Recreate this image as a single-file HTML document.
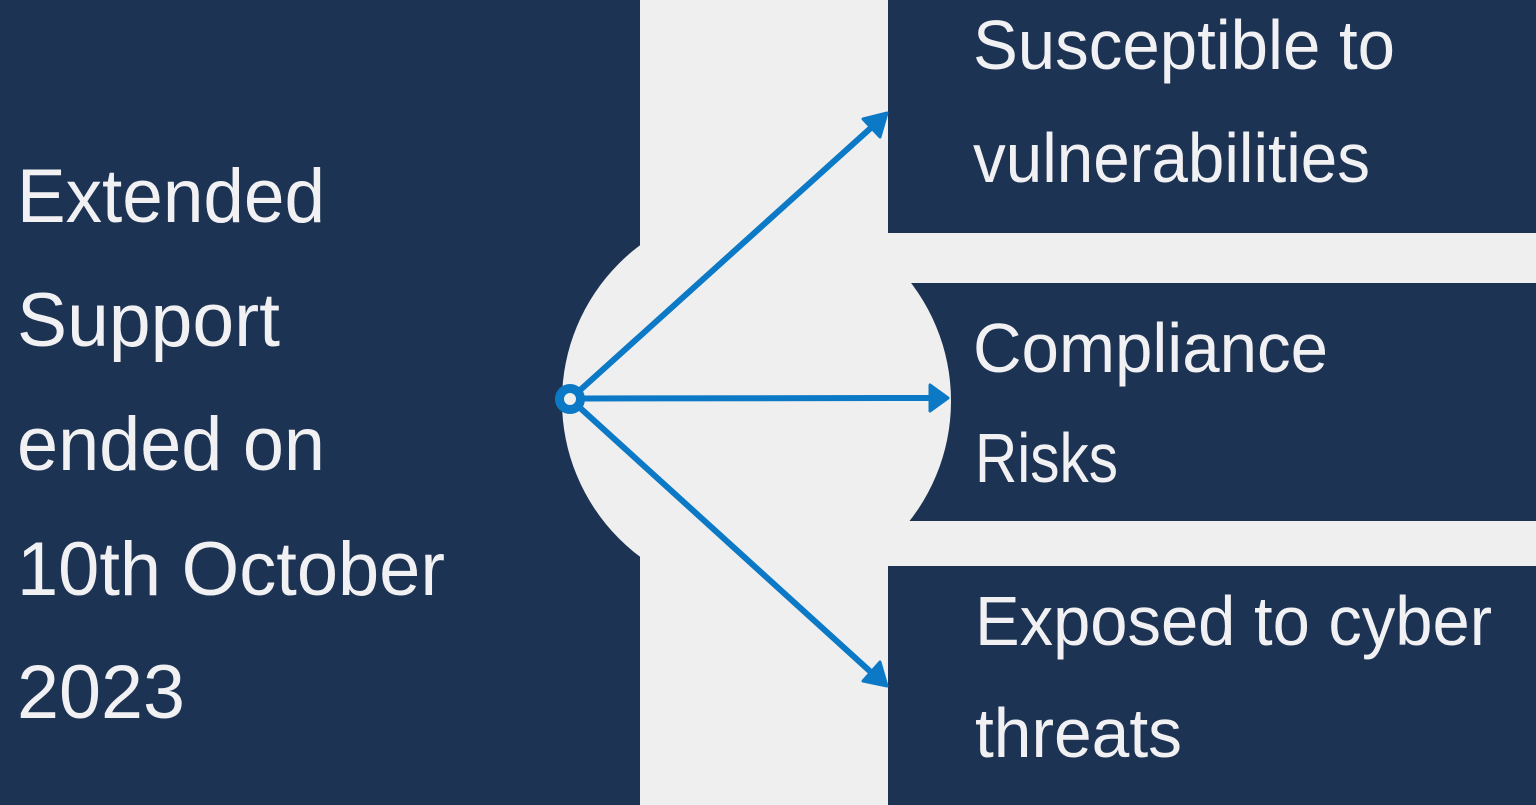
<!DOCTYPE html>
<html>
<head>
<meta charset="utf-8">
<style>
  html,body{margin:0;padding:0;background:#efefef;}
  body{width:1536px;height:805px;overflow:hidden;}
  svg{display:block;}
  text{font-family:"Liberation Sans", sans-serif;fill:#f1f1f3;}
</style>
</head>
<body>
<svg width="1536" height="805" viewBox="0 0 1536 805" xmlns="http://www.w3.org/2000/svg">
  <rect x="0" y="0" width="1536" height="805" fill="#efefef"/>
  <!-- left panel -->
  <rect x="0" y="0" width="640" height="805" fill="#1d3354"/>
  <!-- right boxes -->
  <rect x="888" y="0" width="648" height="233" fill="#1d3354"/>
  <rect x="905" y="283" width="631" height="238" fill="#1d3354"/>
  <rect x="888" y="566" width="648" height="239" fill="#1d3354"/>
  <!-- circle cutout -->
  <circle cx="756.5" cy="401" r="194.5" fill="#efefef"/>

  <!-- connectors -->
  <g stroke="#0b79c6" fill="none" stroke-linecap="round">
    <line x1="578" y1="392" x2="873" y2="126" stroke-width="6"/>
    <line x1="580" y1="398.5" x2="932" y2="398" stroke-width="6"/>
    <line x1="578" y1="406" x2="873" y2="674" stroke-width="6"/>
  </g>
  <circle cx="570" cy="399" r="10.5" fill="#efefef" stroke="#0b79c6" stroke-width="9"/>
  <g fill="#0b79c6" stroke="#0b79c6" stroke-width="3" stroke-linejoin="round">
    <polygon points="887,113 863,119 880,137"/>
    <polygon points="948,398 930,385 930,411"/>
    <polygon points="887,686 863,681 880,662"/>
  </g>

  <!-- left text -->
  <g font-size="76">
    <text x="17" y="222" textLength="308" lengthAdjust="spacingAndGlyphs">Extended</text>
    <text x="17" y="346" textLength="263" lengthAdjust="spacingAndGlyphs">Support</text>
    <text x="17" y="470" textLength="308" lengthAdjust="spacingAndGlyphs">ended on</text>
    <text x="17" y="595" textLength="428" lengthAdjust="spacingAndGlyphs">10th October</text>
    <text x="17" y="718" textLength="168" lengthAdjust="spacingAndGlyphs">2023</text>
  </g>

  <!-- right text -->
  <g font-size="70">
    <text x="973" y="69" textLength="422" lengthAdjust="spacingAndGlyphs">Susceptible to</text>
    <text x="973" y="182" textLength="397" lengthAdjust="spacingAndGlyphs">vulnerabilities</text>
    <text x="973" y="372" textLength="355" lengthAdjust="spacingAndGlyphs">Compliance</text>
    <text x="975" y="482" textLength="143" lengthAdjust="spacingAndGlyphs">Risks</text>
    <text x="975" y="645" textLength="517" lengthAdjust="spacingAndGlyphs">Exposed to cyber</text>
    <text x="975" y="757" textLength="207" lengthAdjust="spacingAndGlyphs">threats</text>
  </g>
</svg>
</body>
</html>
